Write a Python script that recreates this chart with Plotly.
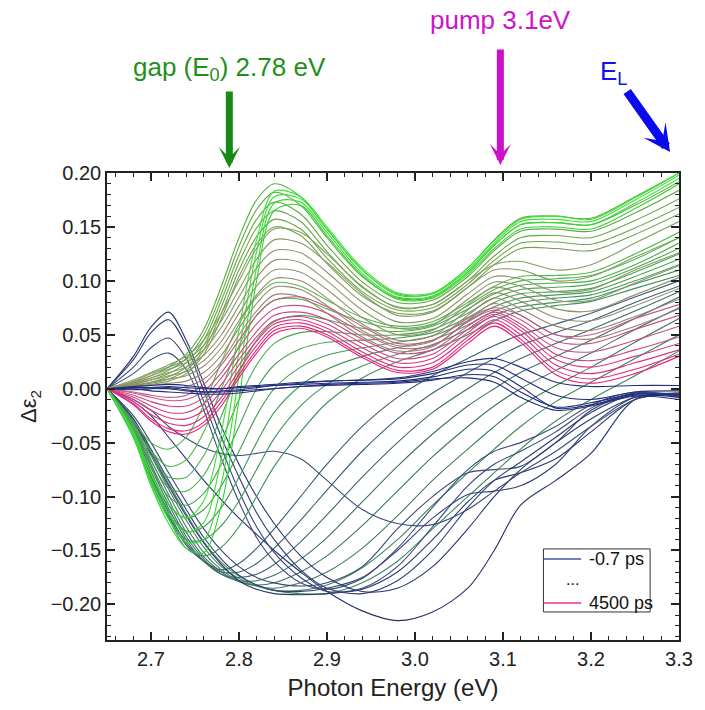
import plotly.graph_objects as go
from plotly.colors import n_colors

# Photon energy grid (eV) at which each transient spectrum is sampled
energy = [2.65, 2.68, 2.70, 2.72, 2.74, 2.76, 2.78, 2.80, 2.82, 2.84, 2.87,
          2.90, 2.94, 2.98, 3.02, 3.06, 3.09, 3.12, 3.16, 3.20, 3.25, 3.30]

# Delta epsilon_2 spectra, grouped by delay regime (earliest first)
early_flat = [
    [0, 0.001, 0.001, 0.002, 0.001, 0.0, 0.0, 0.001, 0.002, 0.003, 0.004, 0.005, 0.006, 0.007, 0.011, 0.018, 0.016, 0.002, -0.018, -0.015, -0.006, -0.008],
    [0, -0.001, 0.0, 0.001, -0.001, -0.003, -0.003, -0.002, -0.001, 0.0, 0.002, 0.003, 0.004, 0.005, 0.008, 0.013, 0.011, -0.003, -0.017, -0.013, -0.005, -0.006],
    [0, 0.002, 0.003, 0.004, 0.003, 0.001, 0.0, 0.002, 0.003, 0.004, 0.006, 0.007, 0.008, 0.009, 0.014, 0.022, 0.022, 0.010, -0.006, -0.010, -0.003, -0.002],
    [0, 0.0, -0.002, -0.003, -0.004, -0.005, -0.005, -0.004, -0.002, 0.0, 0.002, 0.004, 0.005, 0.006, 0.009, 0.010, 0.006, -0.008, -0.020, -0.016, -0.007, -0.010],
    [0, 0.001, 0.001, 0.0, -0.002, -0.003, -0.002, -0.001, 0.001, 0.003, 0.005, 0.007, 0.008, 0.010, 0.016, 0.025, 0.028, 0.020, 0.006, 0.002, 0.003, 0.003],
]

early_bump = [
    [0, 0.030, 0.057, 0.071, 0.045, 0.005, -0.035, -0.070, -0.100, -0.125, -0.155, -0.175, -0.188, -0.185, -0.165, -0.130, -0.100, -0.075, -0.050, -0.028, -0.008, -0.005],
    [0, 0.027, 0.052, 0.064, 0.040, -0.002, -0.045, -0.082, -0.115, -0.140, -0.168, -0.185, -0.190, -0.178, -0.150, -0.110, -0.085, -0.068, -0.045, -0.022, -0.005, -0.006],
    [0, 0.020, 0.038, 0.047, 0.028, -0.012, -0.055, -0.095, -0.128, -0.152, -0.175, -0.188, -0.185, -0.165, -0.128, -0.090, -0.070, -0.058, -0.040, -0.018, -0.004, -0.007],
    [0, 0.014, 0.027, 0.033, 0.018, -0.020, -0.065, -0.105, -0.138, -0.160, -0.180, -0.186, -0.176, -0.148, -0.110, -0.075, -0.058, -0.050, -0.035, -0.015, -0.003, -0.008],
]

deep_bleach = [
    [0, -0.012, -0.025, -0.045, -0.065, -0.085, -0.103, -0.120, -0.135, -0.150, -0.170, -0.188, -0.206, -0.215, -0.207, -0.185, -0.150, -0.108, -0.085, -0.060, -0.010, -0.004],
    [0, -0.030, -0.060, -0.090, -0.118, -0.143, -0.163, -0.178, -0.186, -0.190, -0.191, -0.190, -0.186, -0.170, -0.140, -0.105, -0.085, -0.078, -0.065, -0.040, -0.010, -0.005],
    [0, -0.028, -0.056, -0.085, -0.112, -0.138, -0.158, -0.173, -0.182, -0.187, -0.188, -0.185, -0.175, -0.150, -0.120, -0.098, -0.095, -0.090, -0.070, -0.035, -0.008, -0.006],
    [0, -0.025, -0.050, -0.078, -0.105, -0.130, -0.150, -0.165, -0.175, -0.180, -0.183, -0.180, -0.165, -0.130, -0.100, -0.078, -0.075, -0.072, -0.050, -0.020, -0.004, -0.006],
    [0, -0.010, -0.020, -0.035, -0.046, -0.055, -0.060, -0.062, -0.060, -0.058, -0.065, -0.085, -0.112, -0.125, -0.126, -0.112, -0.095, -0.078, -0.058, -0.035, -0.010, -0.004],
]

broad_dip = [
    [0, -0.042, -0.082, -0.118, -0.145, -0.160, -0.168, -0.162, -0.148, -0.130, -0.100, -0.070, -0.035, -0.008, 0.012, 0.028, 0.040, 0.050, 0.060, 0.070, 0.085, 0.100],
    [0, -0.040, -0.080, -0.115, -0.143, -0.160, -0.170, -0.170, -0.162, -0.148, -0.122, -0.094, -0.058, -0.028, -0.004, 0.015, 0.028, 0.040, 0.052, 0.063, 0.080, 0.095],
    [0, -0.038, -0.077, -0.111, -0.140, -0.160, -0.172, -0.175, -0.172, -0.163, -0.142, -0.117, -0.082, -0.050, -0.022, 0.0, 0.015, 0.028, 0.042, 0.055, 0.072, 0.090],
    [0, -0.036, -0.073, -0.107, -0.137, -0.158, -0.172, -0.178, -0.178, -0.173, -0.158, -0.138, -0.105, -0.072, -0.042, -0.016, 0.0, 0.015, 0.030, 0.045, 0.065, 0.085],
    [0, -0.034, -0.070, -0.103, -0.133, -0.156, -0.170, -0.179, -0.182, -0.180, -0.170, -0.155, -0.127, -0.095, -0.063, -0.035, -0.016, 0.0, 0.017, 0.033, 0.055, 0.075],
    [0, -0.032, -0.066, -0.098, -0.128, -0.152, -0.168, -0.178, -0.183, -0.185, -0.180, -0.170, -0.148, -0.118, -0.085, -0.056, -0.035, -0.016, 0.003, 0.020, 0.043, 0.065],
    [0, -0.030, -0.062, -0.093, -0.122, -0.147, -0.165, -0.176, -0.183, -0.187, -0.187, -0.182, -0.166, -0.140, -0.108, -0.078, -0.056, -0.035, -0.012, 0.006, 0.028, 0.050],
    [0, -0.028, -0.058, -0.088, -0.116, -0.142, -0.161, -0.174, -0.182, -0.187, -0.190, -0.190, -0.180, -0.160, -0.130, -0.100, -0.078, -0.056, -0.030, -0.010, 0.012, 0.035],
]

gap_dip = [
    [0, -0.045, -0.086, -0.120, -0.148, -0.155, -0.147, -0.128, -0.100, -0.072, -0.040, -0.013, 0.010, 0.025, 0.036, 0.050, 0.063, 0.072, 0.077, 0.081, 0.093, 0.105],
    [0, -0.044, -0.083, -0.117, -0.140, -0.140, -0.127, -0.104, -0.075, -0.046, -0.016, 0.004, 0.021, 0.032, 0.041, 0.055, 0.068, 0.076, 0.080, 0.084, 0.097, 0.110],
    [0, -0.043, -0.080, -0.113, -0.132, -0.128, -0.110, -0.082, -0.050, -0.022, 0.003, 0.018, 0.030, 0.038, 0.045, 0.059, 0.072, 0.080, 0.084, 0.087, 0.100, 0.115],
    [0, -0.042, -0.077, -0.108, -0.120, -0.112, -0.090, -0.058, -0.025, 0.0, 0.020, 0.031, 0.038, 0.043, 0.049, 0.063, 0.076, 0.084, 0.087, 0.090, 0.104, 0.120],
    [0, -0.040, -0.072, -0.100, -0.108, -0.097, -0.070, -0.035, 0.0, 0.022, 0.037, 0.043, 0.045, 0.047, 0.052, 0.066, 0.080, 0.088, 0.090, 0.093, 0.108, 0.125],
    [0, -0.038, -0.067, -0.092, -0.095, -0.080, -0.048, -0.010, 0.022, 0.042, 0.052, 0.053, 0.050, 0.050, 0.055, 0.070, 0.084, 0.092, 0.094, 0.097, 0.112, 0.130],
    [0, -0.036, -0.062, -0.082, -0.082, -0.062, -0.025, 0.015, 0.045, 0.062, 0.068, 0.064, 0.056, 0.053, 0.058, 0.074, 0.088, 0.096, 0.098, 0.100, 0.115, 0.135],
    [0, -0.034, -0.058, -0.072, -0.066, -0.040, 0.0, 0.040, 0.068, 0.082, 0.083, 0.074, 0.062, 0.056, 0.060, 0.077, 0.092, 0.100, 0.102, 0.105, 0.120, 0.140],
    [0, -0.030, -0.050, -0.056, -0.045, -0.015, 0.025, 0.060, 0.085, 0.098, 0.095, 0.082, 0.066, 0.058, 0.062, 0.080, 0.095, 0.104, 0.105, 0.108, 0.125, 0.145],
]

strong_peak = [
    [0, -0.045, -0.090, -0.125, -0.148, -0.152, -0.108, -0.010, 0.100, 0.165, 0.170, 0.142, 0.105, 0.083, 0.084, 0.106, 0.130, 0.148, 0.150, 0.148, 0.167, 0.190],
    [0, -0.044, -0.088, -0.121, -0.142, -0.140, -0.088, 0.012, 0.112, 0.172, 0.173, 0.145, 0.107, 0.085, 0.086, 0.108, 0.133, 0.152, 0.154, 0.152, 0.172, 0.195],
    [0, -0.042, -0.084, -0.116, -0.133, -0.124, -0.064, 0.034, 0.127, 0.178, 0.176, 0.148, 0.110, 0.087, 0.088, 0.110, 0.135, 0.155, 0.157, 0.155, 0.175, 0.198],
    [0, -0.040, -0.079, -0.107, -0.120, -0.104, -0.040, 0.055, 0.138, 0.183, 0.178, 0.150, 0.112, 0.089, 0.089, 0.112, 0.137, 0.157, 0.160, 0.157, 0.177, 0.200],
]

max_peak = [
    [0, 0.006, 0.012, 0.020, 0.032, 0.055, 0.095, 0.140, 0.175, 0.190, 0.178, 0.148, 0.110, 0.088, 0.088, 0.112, 0.138, 0.158, 0.160, 0.158, 0.178, 0.200],
    [0, 0.005, 0.010, 0.017, 0.028, 0.050, 0.088, 0.132, 0.166, 0.182, 0.170, 0.140, 0.104, 0.084, 0.085, 0.108, 0.133, 0.152, 0.154, 0.152, 0.170, 0.192],
    [0, 0.004, 0.008, 0.014, 0.024, 0.045, 0.082, 0.124, 0.157, 0.173, 0.162, 0.133, 0.099, 0.080, 0.082, 0.104, 0.128, 0.146, 0.148, 0.146, 0.163, 0.184],
    [0, 0.003, 0.006, 0.011, 0.020, 0.040, 0.076, 0.117, 0.149, 0.165, 0.155, 0.127, 0.094, 0.076, 0.078, 0.100, 0.123, 0.140, 0.142, 0.140, 0.156, 0.176],
    [0, 0.003, 0.005, 0.009, 0.017, 0.036, 0.070, 0.110, 0.141, 0.157, 0.148, 0.121, 0.090, 0.073, 0.075, 0.097, 0.119, 0.135, 0.136, 0.134, 0.149, 0.168],
    [0, 0.002, 0.004, 0.007, 0.014, 0.032, 0.065, 0.104, 0.134, 0.150, 0.142, 0.116, 0.086, 0.070, 0.072, 0.094, 0.115, 0.130, 0.130, 0.128, 0.143, 0.162],
]

decay = [
    [0, 0.008, 0.015, 0.022, 0.030, 0.045, 0.070, 0.100, 0.130, 0.148, 0.145, 0.125, 0.095, 0.075, 0.078, 0.100, 0.115, 0.118, 0.110, 0.115, 0.135, 0.155],
    [0, 0.007, 0.014, 0.020, 0.027, 0.040, 0.063, 0.092, 0.120, 0.138, 0.135, 0.117, 0.088, 0.068, 0.071, 0.094, 0.110, 0.110, 0.100, 0.104, 0.122, 0.140],
    [0, 0.006, 0.012, 0.018, 0.024, 0.036, 0.057, 0.085, 0.112, 0.128, 0.126, 0.108, 0.080, 0.062, 0.065, 0.088, 0.104, 0.102, 0.090, 0.092, 0.110, 0.126],
    [0, 0.005, 0.010, 0.015, 0.020, 0.031, 0.050, 0.077, 0.103, 0.119, 0.117, 0.100, 0.073, 0.056, 0.059, 0.083, 0.099, 0.095, 0.082, 0.082, 0.098, 0.114],
    [0, 0.004, 0.008, 0.012, 0.016, 0.026, 0.044, 0.070, 0.095, 0.110, 0.108, 0.092, 0.066, 0.050, 0.054, 0.078, 0.094, 0.088, 0.074, 0.072, 0.087, 0.103],
    [0, 0.003, 0.006, 0.009, 0.012, 0.021, 0.038, 0.063, 0.087, 0.102, 0.100, 0.084, 0.060, 0.045, 0.049, 0.073, 0.089, 0.081, 0.066, 0.063, 0.077, 0.093],
    [0, 0.002, 0.003, 0.005, 0.007, 0.015, 0.031, 0.056, 0.079, 0.094, 0.092, 0.077, 0.054, 0.040, 0.044, 0.068, 0.084, 0.074, 0.058, 0.054, 0.067, 0.083],
    [0, 0.0, 0.0, 0.0, 0.002, 0.009, 0.025, 0.050, 0.072, 0.087, 0.085, 0.070, 0.048, 0.035, 0.039, 0.063, 0.079, 0.068, 0.050, 0.046, 0.058, 0.074],
]

late = [
    [0, -0.003, -0.006, -0.008, -0.006, 0.004, 0.022, 0.045, 0.068, 0.082, 0.085, 0.076, 0.058, 0.042, 0.045, 0.065, 0.075, 0.068, 0.050, 0.050, 0.065, 0.078],
    [0, -0.004, -0.008, -0.011, -0.010, -0.002, 0.015, 0.038, 0.060, 0.074, 0.077, 0.070, 0.052, 0.038, 0.040, 0.062, 0.073, 0.064, 0.044, 0.042, 0.055, 0.068],
    [0, -0.006, -0.012, -0.016, -0.016, -0.008, 0.010, 0.032, 0.053, 0.068, 0.071, 0.064, 0.046, 0.033, 0.036, 0.058, 0.071, 0.060, 0.038, 0.034, 0.045, 0.058],
    [0, -0.008, -0.016, -0.022, -0.022, -0.014, 0.004, 0.027, 0.048, 0.063, 0.067, 0.060, 0.042, 0.028, 0.032, 0.055, 0.069, 0.057, 0.032, 0.026, 0.036, 0.048],
    [0, -0.010, -0.020, -0.027, -0.028, -0.020, -0.002, 0.022, 0.044, 0.060, 0.064, 0.056, 0.038, 0.024, 0.028, 0.052, 0.067, 0.054, 0.027, 0.020, 0.030, 0.042],
    [0, -0.012, -0.024, -0.032, -0.034, -0.026, -0.008, 0.017, 0.040, 0.057, 0.061, 0.053, 0.034, 0.020, 0.024, 0.048, 0.064, 0.050, 0.022, 0.014, 0.024, 0.036],
    [0, -0.014, -0.028, -0.037, -0.039, -0.031, -0.012, 0.013, 0.036, 0.054, 0.058, 0.050, 0.031, 0.017, 0.020, 0.045, 0.061, 0.046, 0.017, 0.009, 0.018, 0.032],
    [0, -0.015, -0.030, -0.040, -0.042, -0.034, -0.016, 0.010, 0.033, 0.051, 0.056, 0.048, 0.029, 0.015, 0.018, 0.042, 0.058, 0.043, 0.013, 0.005, 0.014, 0.030],
]

first_delay = "-0.7 ps"
last_delay = "4500 ps"

# colour ramp of each group (start, end) and drawing order (back to front)
groups = [
    (broad_dip, "#3b5a70", "#3f8a5c"),
    (deep_bleach, "#26316c", "#3c4f78"),
    (early_bump, "#2a3570", "#3a4a7c"),
    (gap_dip, "#3d8e5c", "#52b84a"),
    (max_peak, "#5aae3e", "#72a24e"),
    (strong_peak, "#2ed82e", "#40e43a"),
    (decay, "#82a060", "#a08072"),
    (late, "#c05a8a", "#e8207a"),
    (early_flat, "#1c2878", "#24307c"),
]


def ramp(c0, c1, n):
    if n == 1:
        return [c0]
    hx = lambda c: "rgb(%d,%d,%d)" % tuple(int(c[i:i + 2], 16) for i in (1, 3, 5))
    return n_colors(hx(c0), hx(c1), n, colortype="rgb")


fig = go.Figure()
for spectra, c0, c1 in groups:
    cols = ramp(c0, c1, len(spectra))
    for ys, col in zip(spectra, cols):
        fig.add_trace(go.Scatter(
            x=energy, y=ys, mode="lines",
            line=dict(color=col, width=1.1, shape="spline", smoothing=0.9),
            showlegend=False, hoverinfo="skip"))

font_family = "Liberation Sans, Arial, sans-serif"

fig.update_layout(
    width=705, height=710,
    margin=dict(l=107, r=24, t=173, b=70),
    paper_bgcolor="white", plot_bgcolor="white",
    font=dict(family=font_family, size=20, color="#222"),
    showlegend=False,
)

axis_common = dict(showline=True, linecolor="#222", linewidth=1.5, mirror="ticks",
                   ticks="inside", ticklen=8, tickwidth=1.5, tickcolor="#222",
                   showgrid=False, zeroline=False)

fig.update_xaxes(range=[2.65, 3.3], dtick=0.1, tick0=2.7, tickformat=".1f",
                 tickfont=dict(size=20),
                 minor=dict(dtick=0.02, ticks="inside", ticklen=4, tickcolor="#222", tickwidth=1.2),
                 title=dict(text="Photon Energy (eV)", font=dict(size=24), standoff=10),
                 **axis_common)
fig.update_yaxes(range=[-0.233, 0.2], dtick=0.05, tick0=0, tickformat=".2f",
                 tickfont=dict(size=20),
                 minor=dict(dtick=0.01, ticks="inside", ticklen=4, tickcolor="#222", tickwidth=1.2),
                 title=dict(text="Δε<sub>2</sub>", font=dict(size=22), standoff=8),
                 **axis_common)

# delay key (box with first / last spectrum colours)
key_box = dict(x0=0.763, x1=0.9495, y0=0.060, y1=0.195)
fig.add_shape(type="rect", xref="paper", yref="paper", **key_box,
              line=dict(color="#333", width=1), fillcolor="white", layer="above")
fig.add_shape(type="line", xref="paper", yref="paper", x0=0.763, x1=0.829,
              y0=0.1734, y1=0.1734, line=dict(color="#4a55a0", width=1.3), layer="above")
fig.add_shape(type="line", xref="paper", yref="paper", x0=0.763, x1=0.829,
              y0=0.0792, y1=0.0792, line=dict(color="#ee2c8e", width=1.3), layer="above")
fig.add_annotation(x=0.8397, y=0.1734, xref="paper", yref="paper", showarrow=False,
                   xanchor="left", yanchor="middle", text=first_delay,
                   font=dict(size=18, color="#111"))
fig.add_annotation(x=0.8136, y=0.130, xref="paper", yref="paper", showarrow=False,
                   xanchor="center", yanchor="middle", text="...",
                   font=dict(size=16, color="#111"))
fig.add_annotation(x=0.8397, y=0.0792, xref="paper", yref="paper", showarrow=False,
                   xanchor="left", yanchor="middle", text=last_delay,
                   font=dict(size=18, color="#111"))

# markers of characteristic energies
fig.add_annotation(x=2.789, y=1.2248, xref="x", yref="paper", showarrow=False,
                   xanchor="center", yanchor="middle",
                   text="gap (E<sub>0</sub>) 2.78 eV", font=dict(size=26, color="#1f9020"))
fig.add_annotation(x=2.789, y=1.0107, xref="x", yref="paper", ax=0, ay=-78,
                   text="", showarrow=True, arrowhead=3, arrowsize=0.5, arrowwidth=7,
                   arrowcolor="#168a16")
fig.add_annotation(x=3.097, y=1.3276, xref="x", yref="paper", showarrow=False,
                   xanchor="center", yanchor="middle",
                   text="pump 3.1eV", font=dict(size=26, color="#cc14cc"))
fig.add_annotation(x=3.097, y=1.017, xref="x", yref="paper", ax=0, ay=-117,
                   text="", showarrow=True, arrowhead=3, arrowsize=0.5, arrowwidth=7,
                   arrowcolor="#cc10cc")
fig.add_annotation(x=3.226, y=1.216, xref="x", yref="paper", showarrow=False,
                   xanchor="center", yanchor="middle",
                   text="E<sub>L</sub>", font=dict(size=26, color="#1212ee"))
fig.add_annotation(x=3.2899, y=1.045, xref="x", yref="paper", ax=-44, ay=-62,
                   text="", showarrow=True, arrowhead=3, arrowsize=0.5, arrowwidth=9,
                   arrowcolor="#0a0af0")

fig.write_html("out.html")
